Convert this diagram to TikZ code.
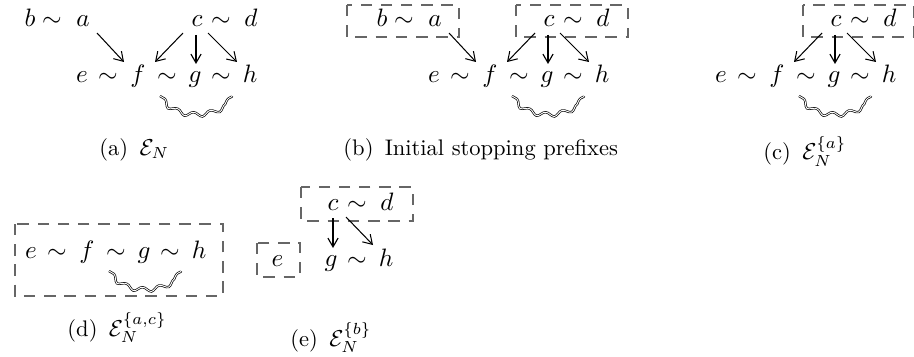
\documentclass[tikz,border=0pt]{standalone}
\usetikzlibrary{calc,arrows.meta,decorations.pathmorphing}

\begin{document}
\begin{tikzpicture}[x=0.435pt, y=-0.435pt,
  ev/.style={anchor=base, inner sep=0pt, font=\fontsize{11}{13}\selectfont},
  subcap/.style={anchor=base west, inner sep=0pt, font=\fontsize{9.8}{12}\selectfont},
  arr/.style={-{Straight Barb[length=3.8pt,width=4.8pt]}, line width=0.45pt},
  arrthick/.style={-{Straight Barb[length=3.8pt,width=4.4pt,line width=0.5pt]}, line width=1.2pt},
  prefixbox/.style={draw=black!60, line width=0.65pt, dash pattern=on 5pt off 3.8pt},
  wave/.style={decorate, decoration={snake, amplitude=1pt, segment length=7.5pt}, double, double distance=0.4pt, line width=0.3pt}]
\useasboundingbox (0,0) rectangle (914,356);
% (a) the net
\node[ev] (b1) at (30,27) {$b$}; \node[ev] (t11) at (52,27) {$\sim$}; \node[ev] (a1) at (83,27) {$a$};
\node[ev] (c1) at (197,27) {$c$}; \node[ev] (t12) at (221,27) {$\sim$}; \node[ev] (d1) at (251,27) {$d$};
\node[ev] (e1) at (82,83) {$e$}; \node[ev] (t13) at (108,83) {$\sim$}; \node[ev] (f1) at (138,83) {$f$}; \node[ev] (t14) at (167,83) {$\sim$};
\node[ev] (g1) at (195,83) {$g$}; \node[ev] (t15) at (221,83) {$\sim$}; \node[ev] (h1) at (250,83) {$h$};
\draw[arr] ([shift={(14,6)}]a1.base) -- ([shift={(-14,-21)}]f1.base); \draw[arr] ([shift={(-14,6)}]c1.base) -- ([shift={(17,-21)}]f1.base);
\draw[arrthick] ([shift={(-1,8)}]c1.base) -- ([shift={(1,-19)}]g1.base); \draw[arr] ([shift={(11,6)}]c1.base) -- ([shift={(-13,-21)}]h1.base);
\draw[wave] ([shift={(-7,13)}]t14.base) .. controls +(16,22) and +(-18,18) .. ([shift={(11,13)}]t15.base);
\node[subcap] (capa) at (99,155) {(a)\enspace$\mathcal{E}_N$};
% (b) initial stopping prefixes
\node[ev] (b2) at (382,27) {$b$}; \node[ev] (t21) at (404,27) {$\sim$}; \node[ev] (a2) at (435,27) {$a$};
\node[ev] (c2) at (549,27) {$c$}; \node[ev] (t22) at (573,27) {$\sim$}; \node[ev] (d2) at (603,27) {$d$};
\node[ev] (e2) at (434,83) {$e$}; \node[ev] (t23) at (460,83) {$\sim$}; \node[ev] (f2) at (490,83) {$f$}; \node[ev] (t24) at (519,83) {$\sim$};
\node[ev] (g2) at (547,83) {$g$}; \node[ev] (t25) at (573,83) {$\sim$}; \node[ev] (h2) at (602,83) {$h$};
\draw[prefixbox] (347,5) rectangle (459,37); \draw[prefixbox] (516,5) rectangle (628,37);
\draw[arr] ([shift={(14,6)}]a2.base) -- ([shift={(-14,-21)}]f2.base); \draw[arr] ([shift={(-14,6)}]c2.base) -- ([shift={(17,-21)}]f2.base);
\draw[arrthick] ([shift={(-1,8)}]c2.base) -- ([shift={(1,-19)}]g2.base); \draw[arr] ([shift={(11,6)}]c2.base) -- ([shift={(-13,-21)}]h2.base);
\draw[wave] ([shift={(-7,13)}]t24.base) .. controls +(16,22) and +(-18,18) .. ([shift={(11,13)}]t25.base);
\node[subcap] (capb) at (343,155) {(b)\enspace Initial stopping prefixes};
% (c) after a
\node[ev] (c3) at (836,27) {$c$}; \node[ev] (t31) at (860,27) {$\sim$}; \node[ev] (d3) at (890,27) {$d$};
\node[ev] (e3) at (721,83) {$e$}; \node[ev] (t33) at (747,83) {$\sim$}; \node[ev] (f3) at (777,83) {$f$}; \node[ev] (t34) at (806,83) {$\sim$};
\node[ev] (g3) at (834,83) {$g$}; \node[ev] (t35) at (860,83) {$\sim$}; \node[ev] (h3) at (889,83) {$h$};
\draw[prefixbox] (803,5) rectangle (913.4,37);
\draw[arr] ([shift={(-14,6)}]c3.base) -- ([shift={(17,-21)}]f3.base);
\draw[arrthick] ([shift={(-1,8)}]c3.base) -- ([shift={(1,-19)}]g3.base); \draw[arr] ([shift={(11,6)}]c3.base) -- ([shift={(-13,-21)}]h3.base);
\draw[wave] ([shift={(-7,13)}]t34.base) .. controls +(16,22) and +(-18,18) .. ([shift={(11,13)}]t35.base);
\node[subcap] (capc) at (763,160) {(c)\enspace$\mathcal{E}_N^{\{a\}}$};
% (d) after a and c
\node[ev] (e4) at (31,258) {$e$}; \node[ev] (t43) at (57,258) {$\sim$}; \node[ev] (f4) at (87,258) {$f$}; \node[ev] (t44) at (116,258) {$\sim$};
\node[ev] (g4) at (144,258) {$g$}; \node[ev] (t45) at (170,258) {$\sim$}; \node[ev] (h4) at (199,258) {$h$};
\draw[prefixbox] (15,224) rectangle (223,296);
\draw[wave] ([shift={(-7,13)}]t44.base) .. controls +(16,22) and +(-18,18) .. ([shift={(11,13)}]t45.base);
\node[subcap] (capd) at (67,336) {(d)\enspace$\mathcal{E}_N^{\{a,c\}}$};
% (e) after b
\node[ev] (c5) at (333,210) {$c$}; \node[ev] (t51) at (357,210) {$\sim$}; \node[ev] (d5) at (387,210) {$d$};
\node[ev] (e5) at (277.5,266) {$e$}; \node[ev] (g5) at (331,266) {$g$}; \node[ev] (t55) at (357,266) {$\sim$}; \node[ev] (h5) at (386,266) {$h$};
\draw[prefixbox] (301,187) rectangle (413,221); \draw[prefixbox] (257,243) rectangle (300,277);
\draw[arrthick] ([shift={(0,8)}]c5.base) -- ([shift={(2,-18)}]g5.base); \draw[arr] ([shift={(13,7)}]c5.base) -- ([shift={(-13,-21)}]h5.base);
\node[subcap] (cape) at (290,346) {(e)\enspace$\mathcal{E}_N^{\{b\}}$};
\end{tikzpicture}
\end{document}
